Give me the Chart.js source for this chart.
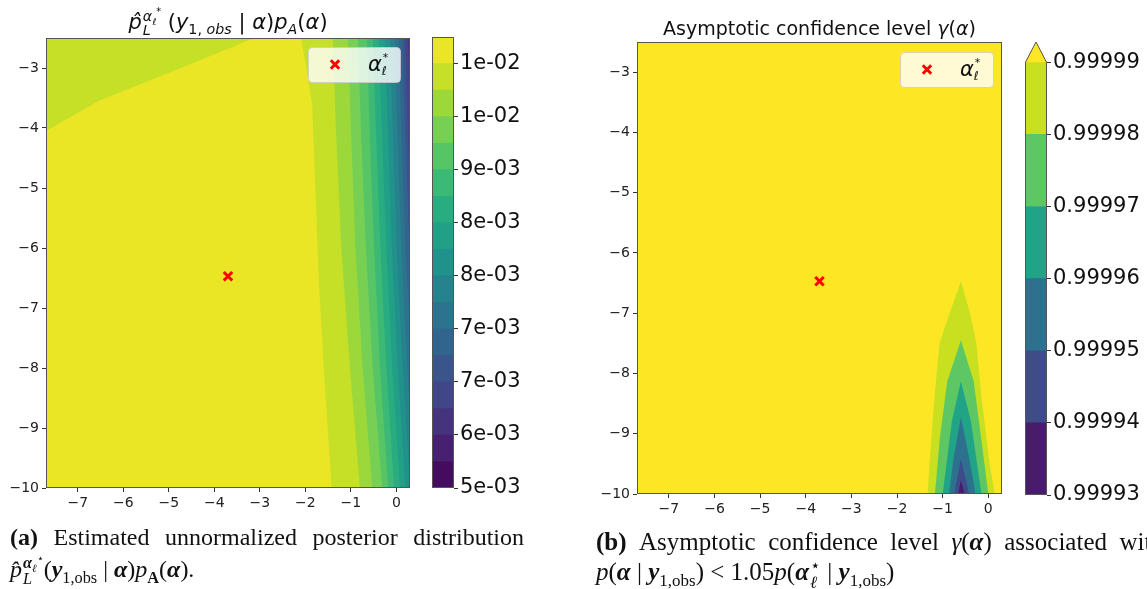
<!DOCTYPE html>
<html>
<head>
<meta charset="utf-8">
<script src="https://cdn.jsdelivr.net/npm/chart.js@4.4.1/dist/chart.umd.min.js"></script>
<style>
  body { margin: 0; width: 1147px; height: 589px; overflow: hidden; background: #fff; position: relative; }
  canvas { position: absolute; top: 0; }
  .title { position: absolute; text-align: center; white-space: nowrap; color: #111; font-family: 'DejaVu Sans'; }
  .cap { position: absolute; font-family: 'Liberation Serif'; color: #111; white-space: nowrap; line-height: 32px; }
  .line1 { display: flex; justify-content: space-between; }
  .st { display: inline-block; vertical-align: -0.45em; line-height: 1; font-size: 0.68em; text-align: left; margin-left: 1px; }
  .st > span { display: block; }
  sub, sup { font-size: 0.68em; line-height: 0; }
</style>
</head>
<body>

<canvas id="postChart" width="420" height="525" style="left:0"></canvas>
<canvas id="postBar" width="125" height="525" style="left:420px"></canvas>
<canvas id="gammaChart" width="422" height="530" style="left:590px"></canvas>
<canvas id="gammaBar" width="135" height="530" style="left:1012px"></canvas>

<div class="title" style="left:46px; width:364px; top:9px; font-size:21px;">
  <i>p̂</i><span class="st"><span><i>α</i><sub><i>ℓ</i></sub><sup>*</sup></span><span><i>L</i></span></span>
  (<i>y</i><sub>1, <i>obs</i></sub> | <i>α</i>)<i>p</i><sub><i>A</i></sub>(<i>α</i>)
</div>
<div class="title" style="left:637px; width:365px; top:17px; font-size:19px;">
  Asymptotic confidence level <i>γ</i>(<i>α</i>)
</div>

<div class="cap" style="left:10px; top:521px; width:514px; font-size:24px;">
  <div class="line1"><span><b>(a)</b></span><span>Estimated</span><span>unnormalized</span><span>posterior</span><span>distribution</span></div>
  <div><i>p̂</i><span class="st"><span><b><i>α</i></b><sub><i>ℓ</i></sub><sup>⋆</sup></span><span><i>L</i></span></span>(<b><i>y</i></b><sub>1,obs</sub> | <b><i>α</i></b>)<i>p</i><sub><b>A</b></sub>(<b><i>α</i></b>).</div>
</div>
<div class="cap" style="left:596px; top:527px; width:568px; font-size:25px; line-height:30px;">
  <div class="line1"><span><b>(b)</b></span><span>Asymptotic</span><span>confidence</span><span>level</span><span><i>γ</i>(<b><i>α</i></b>)</span><span>associated</span><span>with</span></div>
  <div><i>p</i>(<b><i>α</i></b> | <b><i>y</i></b><sub>1,obs</sub>) &lt; 1.05<i>p</i>(<b><i>α</i></b><span class="st"><span>⋆</span><span><i>ℓ</i></span></span> | <b><i>y</i></b><sub>1,obs</sub>)</div>
</div>

<script>
// ---- axes (shared by both panels) ----
const xRange = [-7.7, 0.3];
const yRange = [-10, -2.5];
const xTicks = [-7, -6, -5, -4, -3, -2, -1, 0];
const yTicks = [-10, -9, -8, -7, -6, -5, -4, -3];

// optimum alpha_l*
const starX = [-3.7];
const starY = [-6.47];

// ---- panel (a): posterior contours ----
const postTickLabels = ['5e-03', '6e-03', '7e-03', '7e-03', '8e-03', '8e-03', '9e-03', '1e-02', '1e-02'];
const postBandCount = 17;

// highest band (yellow) region
const postPeakX = [-9.5, -7.7, -6.55, -4.9, -2.8, -2.12, -2.0, -1.85, -1.78, -1.70, -1.58, -1.42];
const postPeakY = [-4.4, -4.05, -3.55, -3.05, -2.4, -2.4, -2.9, -3.6, -5.0, -6.6, -8.2, -10];

// contour boundaries (x sampled at these y), from band 15|14 down to band 3|2
const postBoundaryY = [-10, -8, -6, -4, -2.4];
const postBoundaries = [
  [-0.80, -1.02, -1.21, -1.33, -1.40],
  [-0.53, -0.74, -0.90, -1.00, -1.07],
  [-0.31, -0.52, -0.67, -0.78, -0.85],
  [-0.18, -0.36, -0.49, -0.59, -0.65],
  [-0.05, -0.22, -0.35, -0.45, -0.52],
  [0.08, -0.09, -0.22, -0.32, -0.39],
  [0.20, 0.03, -0.10, -0.19, -0.26],
  [0.31, 0.14, 0.01, -0.08, -0.14],
  [0.42, 0.24, 0.11, 0.02, -0.04],
  [0.52, 0.34, 0.20, 0.11, 0.05],
  [0.62, 0.43, 0.29, 0.19, 0.13],
  [0.70, 0.50, 0.35, 0.25, 0.19],
  [0.78, 0.57, 0.41, 0.31, 0.25]
];

// ---- panel (b): confidence level contours ----
const gammaTickLabels = ['0.99993', '0.99994', '0.99995', '0.99996', '0.99997', '0.99998', '0.99999'];
const gammaColors = ['#481b6d', '#3e4c8a', '#2d718e', '#20a386', '#5dc863', '#c8e020'];
const gammaOver = '#fde725';
// nested regions, outer (0.99998-0.99999) to inner (< 0.99994)
const gammaBandX = [
  [-1.33, -1.29, -1.18, -1.07, -0.85, -0.60, -0.40, -0.26, -0.15, 0.03, 0.14],
  [-1.17, -1.06, -0.90, -0.60, -0.32, -0.16, 0.0],
  [-1.0, -0.80, -0.60, -0.38, -0.15],
  [-0.86, -0.76, -0.60, -0.42, -0.28],
  [-0.75, -0.60, -0.42],
  [-0.66, -0.60, -0.52]
];
const gammaBandY = [
  [-10, -9.5, -8.4, -7.5, -7.0, -6.47, -7.0, -7.5, -8.4, -9.5, -10],
  [-10, -9.06, -8.13, -7.45, -8.13, -9.06, -10],
  [-10, -8.8, -8.13, -8.8, -10],
  [-10, -9.4, -8.73, -9.4, -10],
  [-10, -9.42, -10],
  [-10, -9.77, -10]
];

// viridis colour map
const VIR = ['#440154', '#482475', '#414487', '#355f8d', '#2a788e', '#21918c', '#22a884', '#44bf70', '#7ad151', '#bddf26', '#fde725'];
function viridis(t) {
  const p = t * 10, i = Math.min(9, Math.floor(p)), f = p - i;
  const a = VIR[i], b = VIR[i + 1];
  const c = k => Math.round(parseInt(a.substr(k, 2), 16) * (1 - f) + parseInt(b.substr(k, 2), 16) * f);
  return `rgb(${c(1)},${c(3)},${c(5)})`;
}
const postColors = [];
for (let i = 0; i < postBandCount; i++) postColors.push(viridis((i + 0.5) / postBandCount));

Chart.defaults.font.family = 'DejaVu Sans';

// closed polygon that fills down to the bottom of the axes
function poly(xs, ys) {
  const pts = [{ x: -9, y: -10 }, { x: -9.5, y: -10 }];
  xs.forEach((x, i) => pts.push({ x, y: ys[i] }));
  pts.push({ x: 1.2, y: -10 });
  return pts;
}
function area(points, color, order) {
  return {
    type: 'line', data: points, backgroundColor: color, borderColor: 'rgba(0,0,0,0)',
    borderWidth: 0, pointRadius: 0, pointHoverRadius: 0, fill: 'start', tension: 0, order
  };
}
const starSet = {
  type: 'line', label: 'α', showLine: false, order: 0,
  data: starX.map((x, i) => ({ x, y: starY[i] })),
  pointStyle: 'crossRot', pointRadius: 6, pointBorderWidth: 3, pointBorderColor: '#ff0000', pointBackgroundColor: '#ff0000'
};

const fmt = v => String(v).replace('-', '\u2212');
function axis(range, ticks, size, isX) {
  return {
    type: 'linear', min: range[0], max: range[1],
    afterBuildTicks: s => { s.ticks = ticks.map(v => ({ value: v })); },
    afterFit: s => { if (isX) s.height = size; else s.width = size; },
    grid: { drawOnChartArea: false, drawTicks: true, tickLength: 4, tickColor: '#333', tickWidth: 1 },
    border: { display: false },
    ticks: { font: { size: 14 }, color: '#222', padding: 3, maxRotation: 0, autoSkip: false, callback: fmt }
  };
}

const framePlugin = {
  id: 'frame',
  beforeDatasetsDraw(chart, args, opts) {
    if (!opts.bg) return;
    const a = chart.chartArea, ctx = chart.ctx;
    ctx.save();
    ctx.fillStyle = opts.bg;
    ctx.fillRect(a.left, a.top, a.right - a.left, a.bottom - a.top);
    ctx.restore();
  },
  afterDatasetsDraw(chart, args, opts) {
    const a = chart.chartArea, ctx = chart.ctx;
    ctx.save();
    ctx.strokeStyle = '#555';
    ctx.lineWidth = 1;
    if (opts.arrowAt !== undefined) {
      const ya = chart.scales.y.getPixelForValue(opts.arrowAt);
      const mid = (a.left + a.right) / 2;
      ctx.fillStyle = opts.arrowColor;
      ctx.beginPath();
      ctx.moveTo(a.left, ya); ctx.lineTo(mid, a.top); ctx.lineTo(a.right, ya); ctx.closePath();
      ctx.fill();
      ctx.beginPath();
      ctx.moveTo(a.left + 0.5, a.bottom - 0.5); ctx.lineTo(a.left + 0.5, ya); ctx.lineTo(mid, a.top);
      ctx.lineTo(a.right - 0.5, ya); ctx.lineTo(a.right - 0.5, a.bottom - 0.5); ctx.closePath();
      ctx.stroke();
    } else {
      ctx.strokeRect(a.left + 0.5, a.top + 0.5, a.right - a.left - 1, a.bottom - a.top - 1);
    }
    if (opts.legendBox) {
      const [w, h, dx, dy] = opts.legendBox;
      const bx = a.right - w - dx, by = a.top + dy;
      ctx.fillStyle = 'rgba(255,255,255,0.8)';
      ctx.strokeStyle = 'rgba(204,204,204,0.8)';
      ctx.beginPath();
      ctx.roundRect(bx + 0.5, by + 0.5, w, h, 4);
      ctx.fill(); ctx.stroke();
      const mx = bx + 27, my = by + h / 2, r = 4.2;
      ctx.strokeStyle = '#ff0000'; ctx.lineWidth = 3;
      ctx.beginPath();
      ctx.moveTo(mx - r, my - r); ctx.lineTo(mx + r, my + r);
      ctx.moveTo(mx + r, my - r); ctx.lineTo(mx - r, my + r);
      ctx.stroke();
      const tx = bx + 60;
      ctx.fillStyle = '#111';
      ctx.font = 'italic 21px "DejaVu Sans"';
      ctx.fillText(starSet.label, tx, my + 6);
      const tw = ctx.measureText(starSet.label).width;
      ctx.font = 'italic 12px "DejaVu Sans"';
      ctx.fillText('ℓ', tx + tw, my + 10);
      ctx.font = '11px "DejaVu Sans"';
      ctx.fillText('*', tx + tw + 1, my - 4);
    }
    ctx.restore();
  }
};

const baseOpts = (padding) => ({
  animation: false, responsive: false, events: [],
  layout: { padding },
  plugins: { legend: { display: false }, tooltip: { enabled: false } }
});

// ---- panel (a) ----
const postSets = [starSet, area(poly(postPeakX, postPeakY), postColors[16], 100)];
postBoundaries.forEach((b, j) => {
  postSets.push(area(poly([...b, 1.2], [...postBoundaryY, -2.4]), postColors[14 - j], 99 - j));
});
const postOpts = baseOpts({ top: 38, right: 10, left: 0, bottom: 0 });
postOpts.plugins.frame = { bg: postColors[15], legendBox: [92, 35, 10, 9] };
postOpts.scales = { x: axis(xRange, xTicks, 37, true), y: axis(yRange, yTicks, 46, false) };
new Chart(document.getElementById('postChart'), {
  type: 'line', data: { datasets: postSets }, options: postOpts, plugins: [framePlugin]
});

// ---- panel (a) colour bar ----
const postBarOpts = baseOpts({ left: 12, top: 37, right: 0, bottom: 37 });
postBarOpts.plugins.frame = {};
postBarOpts.scales = {
  x: { display: false },
  y: {
    position: 'right', min: 0, max: postBandCount,
    afterBuildTicks: s => { s.ticks = postTickLabels.map((_, k) => ({ value: 2 * k })); },
    afterFit: s => { s.width = 91; },
    grid: { drawOnChartArea: false, tickLength: 4, tickColor: '#333' },
    border: { display: false },
    ticks: { font: { size: 21 }, color: '#111', padding: 2, autoSkip: false, callback: (v, i) => postTickLabels[i] }
  }
};
new Chart(document.getElementById('postBar'), {
  type: 'bar',
  data: {
    labels: [''],
    datasets: postColors.map((c, i) => ({
      data: [[i, i + 1]], backgroundColor: c, grouped: false, barPercentage: 1, categoryPercentage: 1, borderWidth: 0
    }))
  },
  options: postBarOpts, plugins: [framePlugin]
});

// ---- panel (b) ----
const gammaSets = [starSet];
gammaBandX.forEach((xs, j) => {
  gammaSets.push(area(poly(xs, gammaBandY[j]), gammaColors[5 - j], 100 - j));
});
const gammaOpts = baseOpts({ top: 42, right: 10, left: 0, bottom: 0 });
gammaOpts.plugins.frame = { bg: gammaOver, legendBox: [93, 35, 9, 10] };
gammaOpts.scales = { x: axis(xRange, xTicks, 36, true), y: axis(yRange, yTicks, 47, false) };
new Chart(document.getElementById('gammaChart'), {
  type: 'line', data: { datasets: gammaSets }, options: gammaOpts, plugins: [framePlugin]
});

// ---- panel (b) colour bar (extend = max) ----
const gammaBarOpts = baseOpts({ left: 13, top: 42, right: 0, bottom: 35 });
gammaBarOpts.plugins.frame = { arrowAt: gammaColors.length, arrowColor: gammaOver };
gammaBarOpts.scales = {
  x: { display: false },
  y: {
    position: 'right', min: 0, max: gammaColors.length + 0.28,
    afterBuildTicks: s => { s.ticks = gammaTickLabels.map((_, k) => ({ value: k })); },
    afterFit: s => { s.width = 100; },
    grid: { drawOnChartArea: false, tickLength: 4, tickColor: '#333' },
    border: { display: false },
    ticks: { font: { size: 21 }, color: '#111', padding: 2, autoSkip: false, callback: (v, i) => gammaTickLabels[i] }
  }
};
new Chart(document.getElementById('gammaBar'), {
  type: 'bar',
  data: {
    labels: [''],
    datasets: gammaColors.map((c, i) => ({
      data: [[i, i + 1]], backgroundColor: c, grouped: false, barPercentage: 1, categoryPercentage: 1, borderWidth: 0
    }))
  },
  options: gammaBarOpts, plugins: [framePlugin]
});
</script>
</body>
</html>
